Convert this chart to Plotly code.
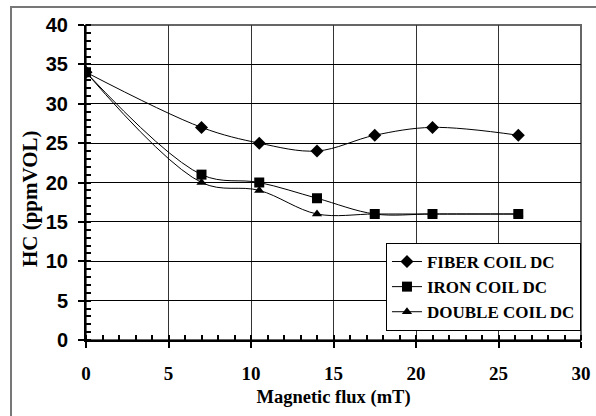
import plotly.graph_objects as go

# Magnetic flux settings (mT)
flux = [0, 7, 10.5, 14, 17.5, 21, 26.2]

# HC emission (ppmVOL) for each coil configuration
fiber_coil = [34, 27, 25, 24, 26, 27, 26]
iron_coil = [34, 21, 20, 18, 16, 16, 16]
double_coil = [34, 20, 19, 16, 16, 16, 16]

series_names = ["FIBER COIL DC", "IRON COIL DC", "DOUBLE COIL DC"]
series_values = [fiber_coil, iron_coil, double_coil]
series_symbols = ["diamond", "square", "triangle-up"]
series_sizes = [10, 10, 9]

x_ticks = [0, 5, 10, 15, 20, 25, 30]
y_ticks = [0, 5, 10, 15, 20, 25, 30, 35, 40]

fig = go.Figure()
for name, vals, sym, sz in zip(series_names, series_values, series_symbols, series_sizes):
    fig.add_trace(go.Scatter(
        x=flux, y=vals, name=name, mode="lines+markers",
        line=dict(color="black", width=1, shape="spline", smoothing=1),
        marker=dict(symbol=sym, size=sz, color="black"),
    ))

serif = "Liberation Serif"
sans = "Liberation Sans"

fig.update_layout(
    width=596, height=416,
    margin=dict(l=86, r=15, t=25, b=76, autoexpand=False),
    paper_bgcolor="white", plot_bgcolor="white",
    showlegend=True,
    legend=dict(
        x=0.606, y=0.308, xanchor="left", yanchor="top",
        bordercolor="black", borderwidth=1, bgcolor="white",
        font=dict(family=serif, size=17, color="black", weight="bold"),
        tracegroupgap=0, itemwidth=30,
    ),
)
fig.update_xaxes(
    range=[0, 30], tickvals=x_ticks,
    tickfont=dict(family=serif, size=19, color="black", weight="bold"),
    ticklabelstandoff=9,
    showgrid=True, gridcolor="#333", gridwidth=1,
    showline=True, linecolor="black", linewidth=2,
    ticks="outside", ticklen=6, tickwidth=2, tickcolor="black",
    minor=dict(dtick=1, ticks="inside", ticklen=5, tickwidth=2, tickcolor="black", showgrid=False),
    title=dict(text="Magnetic flux (mT)", font=dict(family=serif, size=18.5, color="black", weight="bold"), standoff=7),
    zeroline=False,
)
fig.update_yaxes(
    range=[0, 40], tickvals=y_ticks,
    tickfont=dict(family=sans, size=20, color="black", weight="bold"),
    ticklabelstandoff=6,
    showgrid=True, gridcolor="black", gridwidth=1,
    showline=True, linecolor="black", linewidth=2,
    ticks="outside", ticklen=6, tickwidth=2, tickcolor="black",
    minor=dict(dtick=1, ticks="inside", ticklen=5, tickwidth=2, tickcolor="black", showgrid=False),
    zeroline=False,
)

# Y-axis title, set slightly below the plot centre
fig.add_annotation(
    text="HC (ppmVOL)", textangle=-90, showarrow=False,
    xref="paper", yref="paper", x=-0.113, y=0.4476,
    xanchor="center", yanchor="middle",
    font=dict(family=serif, size=21, color="black", weight="bold"),
)

# Plot-area frame along the top and right edges
fig.add_shape(type="rect", xref="paper", yref="paper", x0=0, y0=0, x1=1, y1=1,
              line=dict(color="#666", width=2), layer="below")
# Outer chart frame
fig.add_shape(type="rect", xref="paper", yref="paper",
              x0=-0.1515, y0=-0.27, x1=1.05, y1=1.057,
              line=dict(color="#777", width=2))

fig.write_html("out.html")
